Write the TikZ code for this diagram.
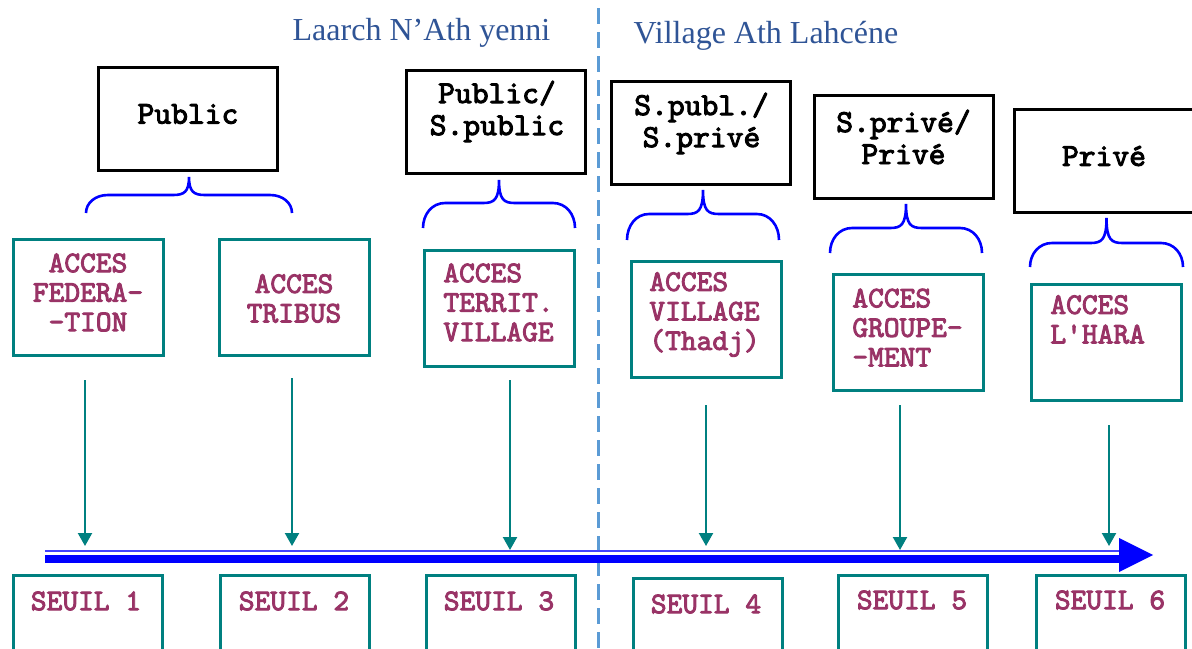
\documentclass[tikz,border=0pt]{standalone}
\usepackage{fontspec}
\setmainfont{Liberation Serif}
\newfontfamily\cmono{lmmono10-regular.otf}[FakeBold=3]
\usetikzlibrary{arrows.meta}
\definecolor{tealc}{RGB}{0,128,128}
\definecolor{maroonc}{RGB}{153,51,102}
\definecolor{titleblue}{RGB}{47,84,150}
\definecolor{dashblue}{RGB}{91,155,213}
\newcommand\drawbrace[5]{%
  \pgfmathsetmacro\bC{(#1+#2)/2}%
  \pgfmathsetmacro\bE{#3-0.55*(#3-#4)}%
  \draw[bracestyle] (#1,#3) .. controls (#1,\bE) and (#1+9,#4) .. (#1+22,#4)
    -- (\bC-16,#4) .. controls (\bC-5,#4) and (\bC,#4-3) .. (\bC,#5)
    .. controls (\bC,#4-3) and (\bC+5,#4) .. (\bC+16,#4)
    -- (#2-22,#4) .. controls (#2-9,#4) and (#2,\bE) .. (#2,#3);}
\tikzset{
  blackbox/.style={draw=black, line width=1.5pt, minimum width=89.5pt, minimum height=51.5pt, inner sep=0pt},
  tealbox/.style={draw=tealc, line width=1.5pt, minimum width=75pt, minimum height=58pt, inner sep=0pt},
  seuilbox/.style={draw=tealc, line width=1.5pt, minimum width=74.5pt, minimum height=38pt, inner sep=0pt},
  btext/.style={font=\fontsize{16}{16}\selectfont\cmono, align=center, inner sep=0pt},
  ttext/.style={font=\fontsize{15}{14.75}\selectfont\cmono, text=maroonc, inner sep=0pt},
  bracestyle/.style={draw=blue, line width=1.3pt},
  varrow/.style={draw=tealc, line width=1.1pt, -{Triangle[length=6.5pt,width=7pt]}},
  titletext/.style={font=\fontsize{16}{19}\selectfont, text=titleblue, inner sep=0pt},
}
\begin{document}
\begin{tikzpicture}[x=0.5pt,y=-0.5pt]
\useasboundingbox (0,0) rectangle (1192,648);
\clip (0,0) rectangle (1192,648);
\fill[white] (0,0) rectangle (1192,648);

% titles
\node[titletext] (tl) at (421.5,33) {Laarch N’Ath yenni};
\node[titletext] (tr) at (766,36) {Village Ath Lahcéne};

% dashed separator
\coordinate (dtop) at (598,8);
\coordinate (dbot) at (598,660);
\draw[dashblue, line width=1.5pt, dash pattern=on 8pt off 4pt] (dtop) -- (dbot);

% black boxes
\node[blackbox] (b1) at (188,119) {};
\node[blackbox] (b2) at (496,122) {};
\node[blackbox] (b3) at (701,132.5) {};
\node[blackbox] (b4) at (903.5,147) {};
\node[blackbox, minimum width=95pt] (b5) at (1109.5,160.5) {};
\node[btext] (bt1) at (188,114) {Public};
\node[btext] (bt2) at (497,111.5) {Public/\\S.public};
\node[btext] (bt3) at (701.5,123.5) {S.publ./\\S.privé};
\node[btext] (bt4) at (903.5,137) {S.privé/\\Privé};
\node[btext] (bt5) at (1104,156) {Privé};

% braces
\drawbrace{86}{292}{213}{195}{177}
\drawbrace{423}{575}{228}{203}{180}
\drawbrace{627}{779}{240}{214}{190}
\drawbrace{830}{982}{253}{228}{204}
\drawbrace{1030}{1183}{267}{243}{218}

% teal boxes
\node[tealbox] (a1) at (88,297.5) {};
\node[tealbox] (a2) at (294,297.5) {};
\node[tealbox] (a3) at (499.5,308.5) {};
\node[tealbox] (a4) at (706,319.5) {};
\node[tealbox] (a5) at (908.5,332.5) {};
\node[tealbox] (a6) at (1106.5,342.5) {};
\node[ttext, align=center] (at1) at (88,292.5) {ACCES\\FEDERA-\\-TION};
\node[ttext, align=center] (at2) at (294,298.5) {ACCES\\TRIBUS};
\node[ttext, align=left, anchor=west] (at3) at (443,302.5) {ACCES\\TERRIT.\\VILLAGE};
\node[ttext, align=left, anchor=west] (at4) at (649,314.5) {ACCES\\VILLAGE\\(Thadj)};
\node[ttext, align=left, anchor=west] (at5) at (852,327.5) {ACCES\\GROUPE-\\-MENT};
\node[ttext, align=left, anchor=west] (at6) at (1050,319.5) {ACCES\\L'HARA};

% vertical arrows
\coordinate (v1s) at (85,380);   \coordinate (v1e) at (85,546);
\coordinate (v2s) at (292,378);  \coordinate (v2e) at (292,546);
\coordinate (v3s) at (510,380);  \coordinate (v3e) at (510,550);
\coordinate (v4s) at (706,405);  \coordinate (v4e) at (706,546);
\coordinate (v5s) at (900,405);  \coordinate (v5e) at (900,550);
\coordinate (v6s) at (1109,425); \coordinate (v6e) at (1109,546);
\foreach \i in {1,...,6} \draw[varrow] (v\i s) -- (v\i e);

% horizontal axis
\coordinate (axs) at (45,555);
\coordinate (axe) at (1121,555);
\coordinate (axtip) at (1153,555);
\draw[blue!75, line width=1.2pt] ([yshift=2.1pt]axs) -- ([yshift=2.1pt]axe);
\draw[blue, line width=4pt] ([yshift=-1.9pt]axs) -- ([yshift=-1.9pt]axe);
\fill[blue] (1119,538) -- (axtip) -- (1119,572) -- cycle;

% seuil boxes
\node[seuilbox] (s1) at (88,613.5) {};
\node[seuilbox] (s2) at (295,613.5) {};
\node[seuilbox] (s3) at (501,613.5) {};
\node[seuilbox] (s4) at (708,616.5) {};
\node[seuilbox] (s5) at (912.5,613.5) {};
\node[seuilbox] (s6) at (1111,613.5) {};
\node[ttext] (st1) at (86,601) {SEUIL 1};
\node[ttext] (st2) at (294,601) {SEUIL 2};
\node[ttext] (st3) at (499,601) {SEUIL 3};
\node[ttext] (st4) at (706,604) {SEUIL 4};
\node[ttext] (st5) at (912,600) {SEUIL 5};
\node[ttext] (st6) at (1110,600) {SEUIL 6};
\end{tikzpicture}
\end{document}
